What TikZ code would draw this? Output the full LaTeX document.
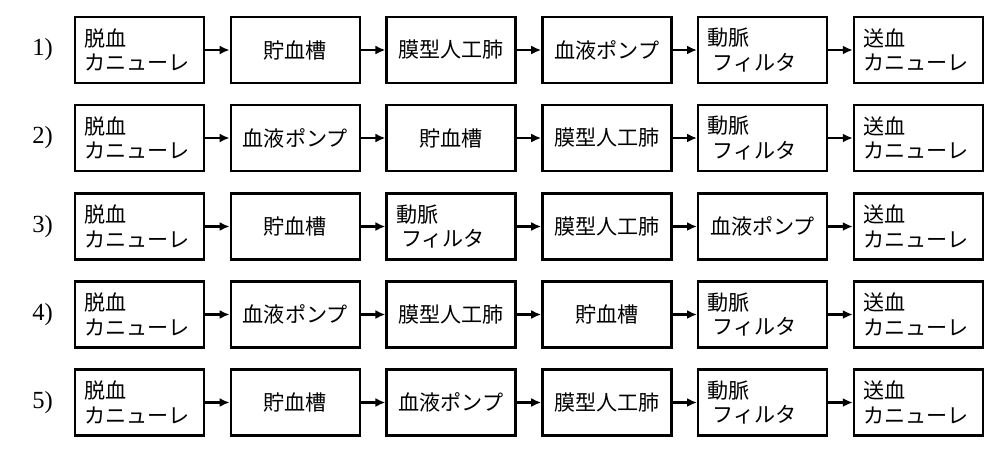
\documentclass[tikz,border=0pt]{standalone}
\usepackage{fontspec}
\setmainfont{Liberation Serif}
\newfontfamily\jpfont{Noto Sans CJK JP}
\usetikzlibrary{positioning,arrows.meta}
\tikzset{
  blk/.style={draw,line width=1.3pt,minimum width=2.58cm,minimum height=1.32cm,
    inner sep=0pt,font=\jpfont\fontsize{12}{14}\selectfont},
  two/.style={blk,text width=2.2cm,align=left},
  one/.style={blk,align=center},
  arr/.style={-{Latex[length=2mm,width=1.8mm]},line width=1.3pt},
  num/.style={font=\fontsize{14}{16}\selectfont}
}
\newcommand{\dt}{脱血\\カニューレ}
\newcommand{\st}{送血\\カニューレ}
\newcommand{\df}{動脈\\\hspace*{0.1cm}フィルタ}
\begin{document}
\begin{tikzpicture}[node distance=0.49cm]
  \useasboundingbox (0,0) rectangle (20,-9.08);
  % 1)
  \node[num] (n1) at (0.85,-1.0) {1)};
  \node[two] (a1) at (2.79,-1.0) {\dt};
  \node[one,right=of a1] (b1) {貯血槽};
  \node[one,right=of b1] (c1) {膜型人工肺};
  \node[one,right=of c1] (d1) {血液ポンプ};
  \node[two,right=of d1] (e1) {\df};
  \node[two,right=of e1] (f1) {\st};
  % 2)
  \node[num] (n2) at (0.85,-2.76) {2)};
  \node[two] (a2) at (2.79,-2.76) {\dt};
  \node[one,right=of a2] (b2) {血液ポンプ};
  \node[one,right=of b2] (c2) {貯血槽};
  \node[one,right=of c2] (d2) {膜型人工肺};
  \node[two,right=of d2] (e2) {\df};
  \node[two,right=of e2] (f2) {\st};
  % 3)
  \node[num] (n3) at (0.85,-4.53) {3)};
  \node[two] (a3) at (2.79,-4.53) {\dt};
  \node[one,right=of a3] (b3) {貯血槽};
  \node[two,right=of b3] (c3) {\df};
  \node[one,right=of c3] (d3) {膜型人工肺};
  \node[one,right=of d3] (e3) {血液ポンプ};
  \node[two,right=of e3] (f3) {\st};
  % 4)
  \node[num] (n4) at (0.85,-6.29) {4)};
  \node[two] (a4) at (2.79,-6.29) {\dt};
  \node[one,right=of a4] (b4) {血液ポンプ};
  \node[one,right=of b4] (c4) {膜型人工肺};
  \node[one,right=of c4] (d4) {貯血槽};
  \node[two,right=of d4] (e4) {\df};
  \node[two,right=of e4] (f4) {\st};
  % 5)
  \node[num] (n5) at (0.85,-8.05) {5)};
  \node[two] (a5) at (2.79,-8.05) {\dt};
  \node[one,right=of a5] (b5) {貯血槽};
  \node[one,right=of b5] (c5) {血液ポンプ};
  \node[one,right=of c5] (d5) {膜型人工肺};
  \node[two,right=of d5] (e5) {\df};
  \node[two,right=of e5] (f5) {\st};

  \foreach \r in {1,...,5} {
    \draw[arr] (a\r) -- (b\r);
    \draw[arr] (b\r) -- (c\r);
    \draw[arr] (c\r) -- (d\r);
    \draw[arr] (d\r) -- (e\r);
    \draw[arr] (e\r) -- (f\r);
  }
\end{tikzpicture}
\end{document}
